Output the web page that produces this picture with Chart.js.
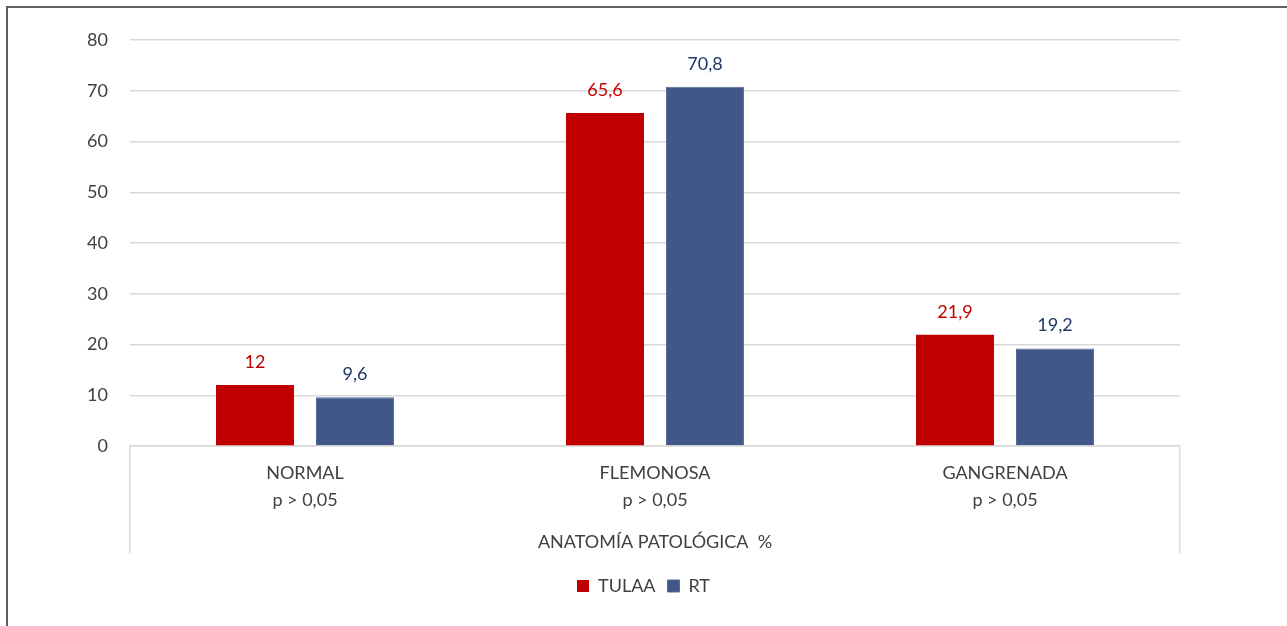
<!DOCTYPE html>
<html>
<head>
<meta charset="utf-8">
<script src="https://cdn.jsdelivr.net/npm/chart.js@4"></script>
<style>
  html, body { margin: 0; padding: 0; background: #fff; width: 1287px; height: 626px; overflow: hidden; }
  #frame { position: absolute; left: 6px; top: 6px; width: 1400px; height: 700px; border-left: 2px solid #5f5f5f; border-top: 2px solid #5f5f5f; }
  #wrap { position: absolute; left: 0; top: 0; width: 1287px; height: 626px; }
</style>
</head>
<body>
<div id="frame"></div>
<div id="wrap"><canvas id="c" width="1287" height="626"></canvas></div>
<script>
const categories = [["NORMAL", "p > 0,05"], ["FLEMONOSA", "p > 0,05"], ["GANGRENADA", "p > 0,05"]];
const seriesNames = ["TULAA", "RT"];
const tulaaValues = [12, 65.6, 21.9];
const rtValues = [9.6, 70.8, 19.2];
const yTicks = [0, 10, 20, 30, 40, 50, 60, 70, 80];
const axisTitle = "ANATOMÍA PATOLÓGICA  %";

const FONT = "Lato, 'Open Sans', sans-serif";
const textColor = "#404040";
const gridColor = "#d9d9d9";
const barColors = ["#c00000", "#415788"];
const labelColors = ["#c00000", "#1f3864"];

const valueLabels = {
  id: "valueLabels",
  afterDatasetsDraw(chart) {
    const ctx = chart.ctx;
    ctx.save();
    ctx.font = "18px " + FONT;
    ctx.textAlign = "center";
    ctx.textBaseline = "middle";
    chart.data.datasets.forEach((ds, i) => {
      const meta = chart.getDatasetMeta(i);
      ctx.fillStyle = labelColors[i];
      meta.data.forEach((el, j) => {
        const txt = String(ds.data[j]).replace(".", ",");
        ctx.fillText(txt, el.x, el.y - 23);
      });
    });
    ctx.restore();
  }
};

new Chart(document.getElementById("c"), {
  type: "bar",
  data: {
    labels: categories,
    datasets: [
      { label: seriesNames[0], data: tulaaValues, backgroundColor: barColors[0], borderWidth: 0 },
      { label: seriesNames[1], data: rtValues, backgroundColor: barColors[1], borderColor: "#5a6d9a", borderWidth: 1 }
    ]
  },
  options: {
    responsive: false,
    animation: false,
    devicePixelRatio: 1,
    categoryPercentage: 0.5714,
    barPercentage: 0.78,
    layout: { padding: { left: 0, right: 0, top: 40, bottom: 21 } },
    plugins: {
      legend: {
        position: "bottom",
        labels: {
          font: { family: FONT, size: 18 },
          color: textColor,
          boxWidth: 12,
          boxHeight: 12,
          padding: 12
        }
      },
      tooltip: { enabled: false }
    },
    scales: {
      x: {
        offset: true,
        grid: {
          offset: true,
          drawOnChartArea: false,
          drawTicks: true,
          tickLength: 107,
          color: (c) => (c.type !== "tick" || c.index === 0) ? gridColor : "rgba(0,0,0,0)",
          lineWidth: 1.5
        },
        border: { display: true, color: gridColor, width: 1.5 },
        ticks: {
          font: { family: FONT, size: 18, lineHeight: 1.5 },
          color: textColor,
          padding: -93.5,
          maxRotation: 0
        },
        title: {
          display: true,
          text: axisTitle,
          font: { family: FONT, size: 18, lineHeight: 1.2 },
          color: textColor,
          padding: { top: 0, bottom: 12 }
        },
        afterFit(scale) { scale.height = 119; }
      },
      y: {
        min: 0,
        max: 80,
        afterBuildTicks(scale) { scale.ticks = yTicks.map(v => ({ value: v })); },
        grid: { color: gridColor, lineWidth: 1.5, drawTicks: false },
        border: { display: false },
        ticks: {
          font: { family: FONT, size: 18 },
          color: textColor,
          padding: 22
        },
        afterFit(scale) { scale.width = 130; }
      },
      yRight: {
        position: "right",
        min: 0,
        max: 80,
        grid: { display: false, drawOnChartArea: false },
        border: { display: false },
        ticks: { display: false },
        afterFit(scale) { scale.width = 107; }
      }
    }
  },
  plugins: [valueLabels]
});
</script>
</body>
</html>
